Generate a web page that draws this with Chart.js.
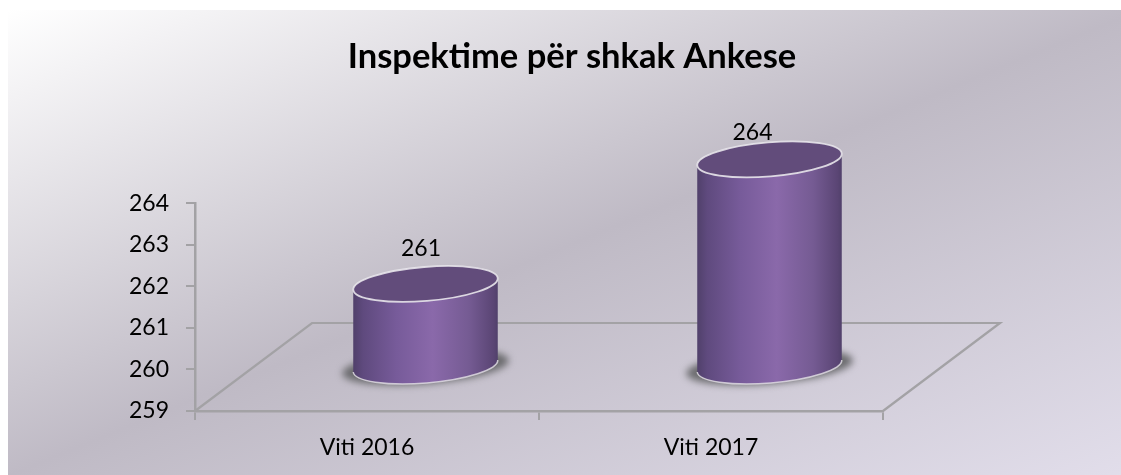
<!DOCTYPE html>
<html><head><meta charset="utf-8">
<script src="https://cdn.jsdelivr.net/npm/chart.js@4"></script>
<style>html,body{margin:0;padding:0;background:#fff}canvas{display:block}</style>
</head><body><canvas id="c" width="1121" height="475"></canvas>
<script>
const categories = ['Viti 2016', 'Viti 2017'];
const inspections = [261, 264];
const yTicks = [259, 260, 261, 262, 263, 264];
const chartTitle = 'Inspektime për shkak Ankese';

const FONT = 'Lato, Carlito, Calibri, sans-serif';
const DEPTH = {x: 117, y: -88};
const LABEL_SHIFT = [{x: -4.5, y: -35}, {x: -17, y: -27}];
const AXIS = '#a3a2a5';

class CylinderController extends Chart.BarController {
  draw() {
    const ctx = this.chart.ctx, meta = this.getMeta();
    meta.data.forEach((bar, i) => {
      const p = bar.getProps(['x', 'y', 'base', 'width'], true);
      const cx = p.x + DEPTH.x / 2, ty = p.y + DEPTH.y / 2, by = p.base + DEPTH.y / 2;
      const rx = p.width / 2, ry = 17, rot = -4.7 * Math.PI / 180;
      // ground shadow
      ctx.save();
      ctx.filter = 'blur(3.5px)';
      ctx.fillStyle = '#6c6c6f';
      ctx.beginPath();
      ctx.ellipse(cx, by + 1, rx + 11, ry, rot, 0, Math.PI * 2);
      ctx.fill();
      ctx.restore();
      // body
      const g = ctx.createLinearGradient(cx - rx, 0, cx + rx, 0);
      g.addColorStop(0, '#50406a');
      g.addColorStop(0.07, '#5f4a7e');
      g.addColorStop(0.3, '#775b9a');
      g.addColorStop(0.55, '#8a69aa');
      g.addColorStop(0.8, '#755b93');
      g.addColorStop(0.97, '#5a4574');
      g.addColorStop(1, '#50406a');
      ctx.save();
      ctx.beginPath();
      ctx.ellipse(cx, by, rx, ry, rot, 0, Math.PI);
      ctx.ellipse(cx, ty, rx, ry, rot, Math.PI, 0);
      ctx.closePath();
      ctx.fillStyle = g;
      ctx.fill();
      ctx.strokeStyle = 'rgba(222,218,226,0.85)';
      ctx.lineWidth = 1.5;
      ctx.beginPath();
      ctx.ellipse(cx, by, rx, ry, rot, 0, Math.PI);
      ctx.stroke();
      // top cap
      ctx.beginPath();
      ctx.ellipse(cx, ty, rx, ry, rot, 0, Math.PI * 2);
      ctx.fillStyle = '#624c7b';
      ctx.fill();
      ctx.lineWidth = 1.8;
      ctx.strokeStyle = 'rgba(232,229,235,0.9)';
      ctx.stroke();
      ctx.restore();
      // value label
      ctx.save();
      ctx.fillStyle = '#000';
      ctx.font = '23px ' + FONT;
      ctx.textAlign = 'center';
      ctx.textBaseline = 'middle';
      const s = LABEL_SHIFT[i];
      ctx.fillText(String(this.getDataset().data[i]), cx + s.x, ty + s.y);
      ctx.restore();
    });
  }
}
CylinderController.id = 'cylinder';
CylinderController.defaults = Chart.BarController.defaults;
Chart.register(CylinderController);

const stage = {
  id: 'stage',
  beforeDraw(chart) {
    const ctx = chart.ctx;
    const g = ctx.createLinearGradient(8, 10, 336, 807);
    g.addColorStop(0, '#ffffff');
    g.addColorStop(0.5, '#bfbac5');
    g.addColorStop(1, '#e2deeb');
    ctx.fillStyle = '#fff';
    ctx.fillRect(0, 0, chart.width, chart.height);
    ctx.fillStyle = g;
    ctx.fillRect(8, 10, chart.width - 8, chart.height - 10);
  },
  afterLayout(chart) {
    const t = chart.titleBlock;
    t.left = 0; t.right = 1144;
  },
  beforeDatasetsDraw(chart) {
    const ctx = chart.ctx, a = chart.chartArea;
    ctx.save();
    ctx.strokeStyle = AXIS;
    ctx.lineWidth = 2.2;
    ctx.beginPath();
    ctx.moveTo(a.left, a.bottom);
    ctx.lineTo(a.left + DEPTH.x, a.bottom + DEPTH.y);
    ctx.lineTo(a.right + DEPTH.x, a.bottom + DEPTH.y);
    ctx.lineTo(a.right, a.bottom);
    ctx.stroke();
    ctx.restore();
  }
};

new Chart(document.getElementById('c'), {
  type: 'cylinder',
  data: {labels: categories, datasets: [{data: inspections, base: yTicks[0], barPercentage: 0.4215, categoryPercentage: 1, clip: false}]},
  plugins: [stage],
  options: {
    responsive: false, animation: false,
    layout: {padding: {left: 120, right: 238, top: 0, bottom: 0}},
    plugins: {
      legend: {display: false}, tooltip: {enabled: false},
      title: {display: true, text: chartTitle, color: '#000',
        font: {family: FONT, size: 34.5, weight: 'bold'}, padding: {top: 36, bottom: 126}, fullSize: false}
    },
    scales: {
      x: {
        afterFit(s) { s.height = 64; },
        grid: {display: true, drawOnChartArea: false, color: AXIS, lineWidth: 2, tickLength: 9, offset: true},
        border: {display: true, color: AXIS, width: 2.5},
        ticks: {color: '#000', font: {family: FONT, size: 23}, padding: 14}
      },
      y: {
        min: yTicks[0], max: yTicks[yTicks.length - 1],
        afterFit(s) { s.width = 75; },
        afterBuildTicks(s) { s.ticks = yTicks.map(v => ({value: v})); },
        grid: {display: true, drawOnChartArea: false, color: AXIS, lineWidth: 2, tickLength: 9},
        border: {display: true, color: AXIS, width: 2.5},
        ticks: {color: '#000', font: {family: FONT, size: 23}, padding: 17}
      }
    }
  }
});
</script></body></html>
